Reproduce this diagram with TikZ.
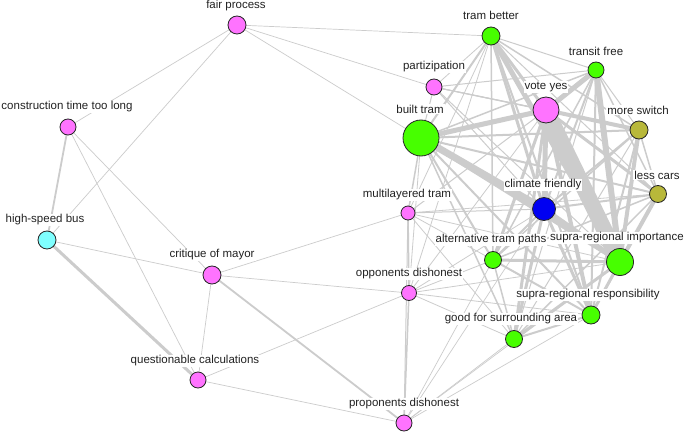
\documentclass[tikz,border=0pt]{standalone}
\usepackage{fontspec}
\setmainfont{Liberation Sans}
\usetikzlibrary{backgrounds}
\definecolor{pinkn}{HTML}{FF73FF}
\definecolor{greenn}{HTML}{47FF00}
\definecolor{oliven}{HTML}{B8B83A}
\definecolor{bluen}{HTML}{0000F2}
\definecolor{cyann}{HTML}{7FFFFF}
\definecolor{edgec}{HTML}{CCCCCC}
\definecolor{txt}{HTML}{222222}
\tikzset{
  vert/.style={circle, draw=black!85, line width=0.8pt, inner sep=0pt},
  lbl/.style={fill=white, inner sep=1pt, text=txt, font=\fontsize{11.5}{13}\selectfont},
  edge/.style={draw=edgec, line cap=butt},
}
\begin{document}
\begin{tikzpicture}[x=1pt,y=-1pt]
\useasboundingbox (0,0) rectangle (685,433);
% vertices
\node[vert, fill=pinkn, minimum size=18pt] (fp) at (237,25) {};
\node[vert, fill=pinkn, minimum size=16pt] (ct) at (68,127) {};
\node[vert, fill=cyann, minimum size=18pt] (hb) at (47,240) {};
\node[vert, fill=pinkn, minimum size=18pt] (cm) at (212,275) {};
\node[vert, fill=pinkn, minimum size=16pt] (qc) at (198,380) {};
\node[vert, fill=pinkn, minimum size=16pt] (pd) at (404,423) {};
\node[vert, fill=pinkn, minimum size=15pt] (od) at (409,293) {};
\node[vert, fill=pinkn, minimum size=14pt] (mt) at (408,213) {};
\node[vert, fill=pinkn, minimum size=16pt] (pz) at (434,87) {};
\node[vert, fill=greenn, minimum size=18pt] (tb) at (491,36) {};
\node[vert, fill=greenn, minimum size=16pt] (tf) at (596,70) {};
\node[vert, fill=greenn, minimum size=36pt] (bt) at (421,138) {};
\node[vert, fill=pinkn, minimum size=26pt] (vy) at (546,110) {};
\node[vert, fill=oliven, minimum size=18pt] (ms) at (639,130) {};
\node[vert, fill=oliven, minimum size=17pt] (lc) at (658,194) {};
\node[vert, fill=bluen, minimum size=23pt] (cf) at (544,209) {};
\node[vert, fill=greenn, minimum size=17pt] (ap) at (493,260) {};
\node[vert, fill=greenn, minimum size=27pt] (si) at (620,262) {};
\node[vert, fill=greenn, minimum size=18pt] (sr) at (591,315) {};
\node[vert, fill=greenn, minimum size=17pt] (gs) at (514,339) {};
% edges
\begin{scope}[on background layer]
\fill[white] (0,0) rectangle (685,433);
\foreach \a/\b/\w in {
 fp/ct/0.7, fp/hb/0.7, fp/tb/0.7, fp/pz/0.7, fp/bt/0.7,
 ct/hb/1.8, ct/qc/0.7, ct/cm/0.7,
 hb/cm/0.7, hb/qc/3,
 cm/qc/0.7, cm/pd/1.8, cm/od/0.7, cm/mt/0.7,
 qc/od/0.7, qc/pd/0.7,
 pd/od/1.5, pd/mt/1, od/mt/1.5,
 pd/gs/0.7, pd/ap/0.7, pd/sr/0.7, pd/si/0.7, pd/cf/0.7,
 od/ap/0.8, od/gs/0.8, od/si/0.8, od/sr/0.8, od/cf/0.8, od/bt/0.8, od/vy/0.8, od/tb/0.8,
 mt/bt/1.5, mt/cf/1, mt/ap/0.8, mt/si/0.8, mt/vy/1, mt/tb/0.8, mt/lc/0.8, mt/gs/0.8,
 tb/bt/2, tb/vy/3, tb/tf/1, tb/cf/3, tb/si/5, tb/ms/1.5, tb/pz/0.8, tb/ap/1.5, tb/sr/2, tb/lc/1,
 bt/vy/5, bt/cf/7, bt/si/4, bt/ms/2, bt/lc/2, bt/ap/2, bt/gs/1.5, bt/sr/2, bt/tf/1.5, bt/pz/1,
 vy/si/16, vy/cf/5, vy/tf/5, vy/ms/4, vy/lc/3, vy/ap/3, vy/sr/4, vy/gs/3, vy/pz/1,
 tf/si/6, tf/ms/1, tf/lc/1.5, tf/cf/2, tf/sr/2, tf/ap/1.5, tf/gs/1, tf/pz/1,
 ms/si/4, ms/lc/1.5, ms/cf/2, ms/ap/1.5, ms/sr/2, ms/gs/1,
 lc/si/4, lc/cf/2, lc/ap/1.5, lc/sr/2, lc/gs/1.5,
 cf/si/5, cf/ap/2, cf/sr/3, cf/gs/3,
 ap/si/3, ap/sr/2, ap/gs/1.5,
 si/sr/3, si/gs/3, sr/gs/2,
 pz/vy/1, pz/cf/1, pz/si/1, pz/ms/1}
 \draw[edge, line width=\w pt] (\a.center) -- (\b.center);
\end{scope}
% labels
\node[lbl] (lfp) at (236,6) {fair process};
\node[lbl] (lct) at (67,107) {construction time too long};
\node[lbl] (lhb) at (45,220) {high-speed bus};
\node[lbl] (lcm) at (212,255) {critique of mayor};
\node[lbl] (lqc) at (195,361) {questionable calculations};
\node[lbl] (lpd) at (404,404) {proponents dishonest};
\node[lbl] (lod) at (409,274) {opponents dishonest};
\node[lbl] (lmt) at (407,195) {multilayered tram};
\node[lbl] (lpz) at (434,67) {partizipation};
\node[lbl] (ltb) at (491,15) {tram better};
\node[lbl] (ltf) at (596,51) {transit free};
\node[lbl] (lbt) at (420,109) {built tram};
\node[lbl] (lvy) at (546,87) {vote yes};
\node[lbl] (lms) at (638,110) {more switch};
\node[lbl] (llc) at (657,175) {less cars};
\node[lbl] (lcf) at (543,185) {climate friendly};
\node[lbl] (lap) at (491,240) {alternative tram paths};
\node[lbl] (lsi) at (617,238) {supra-regional importance};
\node[lbl] (lsr) at (588,295) {supra-regional responsibility};
\node[lbl] (lgs) at (511,319) {good for surrounding area};
\end{tikzpicture}
\end{document}
